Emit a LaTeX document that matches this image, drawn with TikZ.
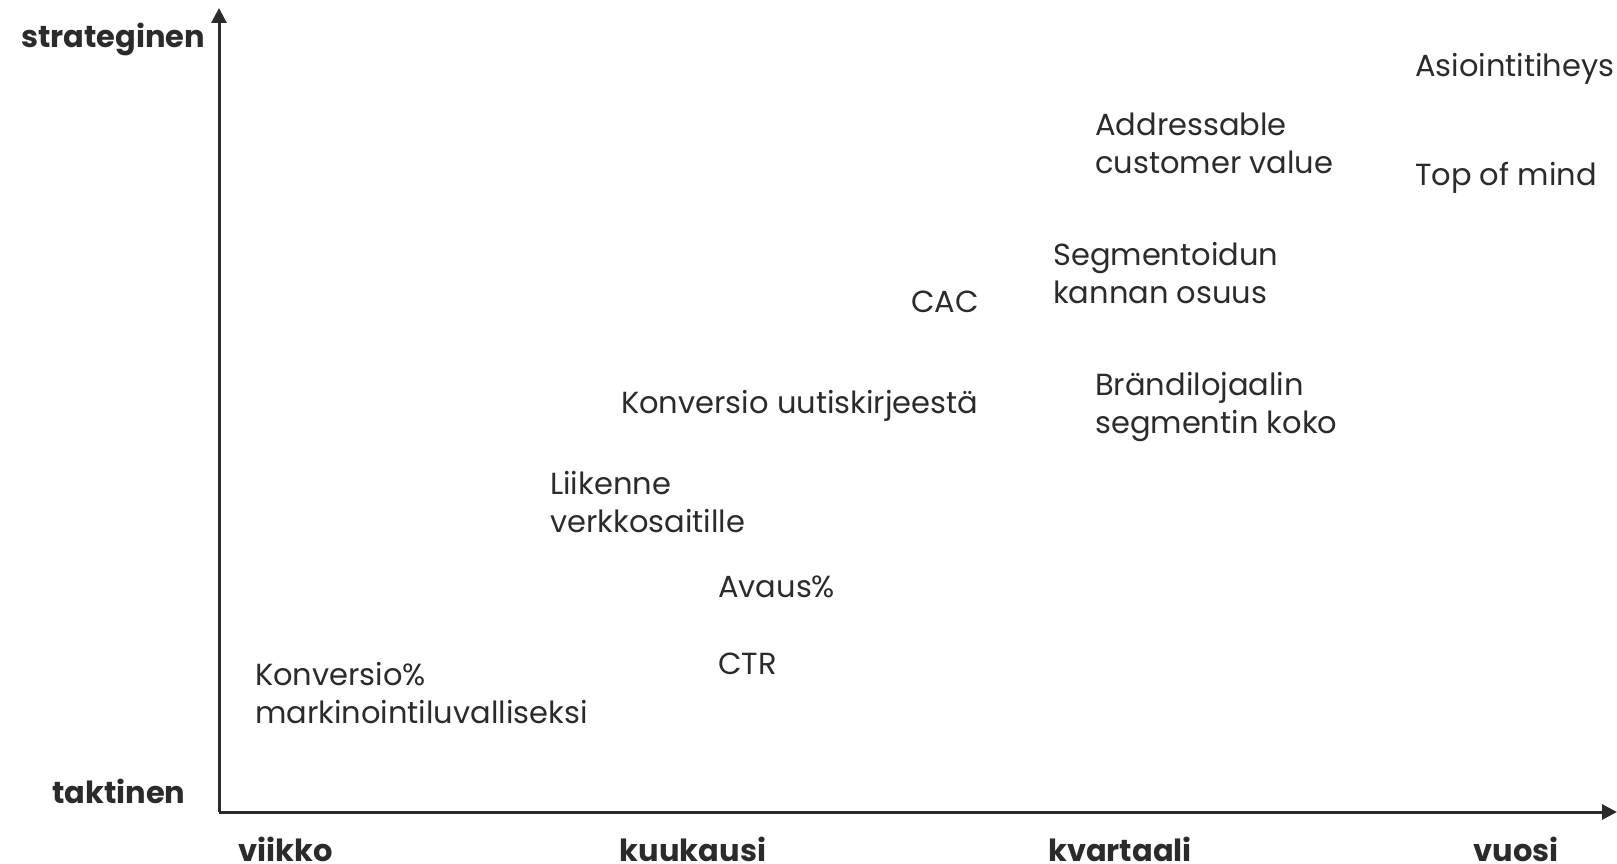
\documentclass[tikz,border=0pt]{standalone}
\usepackage{fontspec}
\setmainfont{Poppins}
\usetikzlibrary{arrows.meta}
\definecolor{ink}{HTML}{2B2B2B}
\begin{document}
\begin{tikzpicture}[x=1pt,y=-1pt,
  % multi-line metrics are anchored at the baseline of their last line
  metric/.style={anchor=base west,inner sep=0pt,align=left,text=ink,
    font=\fontsize{30.5}{38}\selectfont},
  axislabel/.style={inner sep=0pt,text=ink,font=\fontsize{30.5}{36}\selectfont\bfseries},
  axisline/.style={draw=ink,line width=3pt,-{Triangle[length=15pt,width=15pt]}}]
\useasboundingbox (0,0) rectangle (1617,864);
% axes
\coordinate (origin) at (219,812);
\coordinate (ytip) at (219,8);
\coordinate (xtip) at (1617,812);
\draw[axisline] (origin) -- (ytip);
\draw[axisline] (origin) -- (xtip);
% axis labels
\node[axislabel,anchor=base west] (strat) at (21,48) {strateginen};
\node[axislabel,anchor=base west] (takt) at (52,803) {taktinen};
\node[axislabel,anchor=base] (week) at (286,861) {viikko};
\node[axislabel,anchor=base] (month) at (693,861) {kuukausi};
\node[axislabel,anchor=base] (quarter) at (1120,861) {kvartaali};
\node[axislabel,anchor=base] (year) at (1516,861) {vuosi};
% metrics
\node[metric] (freq) at (1415,77) {Asiointitiheys};
\node[metric] (tom) at (1415,185) {Top of mind};
\node[metric] (acv) at (1095,173) {Addressable\\customer value};
\node[metric] (seg) at (1053,303) {Segmentoidun\\kannan osuus};
\node[metric] (cac) at (911,312) {CAC};
\node[metric] (news) at (621,413) {Konversio uutiskirjeestä};
\node[metric] (brand) at (1095,433) {Brändilojaalin\\segmentin koko};
\node[metric] (traffic) at (550,532) {Liikenne\\verkkosaitille};
\node[metric] (open) at (718,597) {Avaus\%};
\node[metric] (ctr) at (718,674) {CTR};
\node[metric] (conv) at (255,723) {Konversio\%\\markinointiluvalliseksi};
\end{tikzpicture}
\end{document}
